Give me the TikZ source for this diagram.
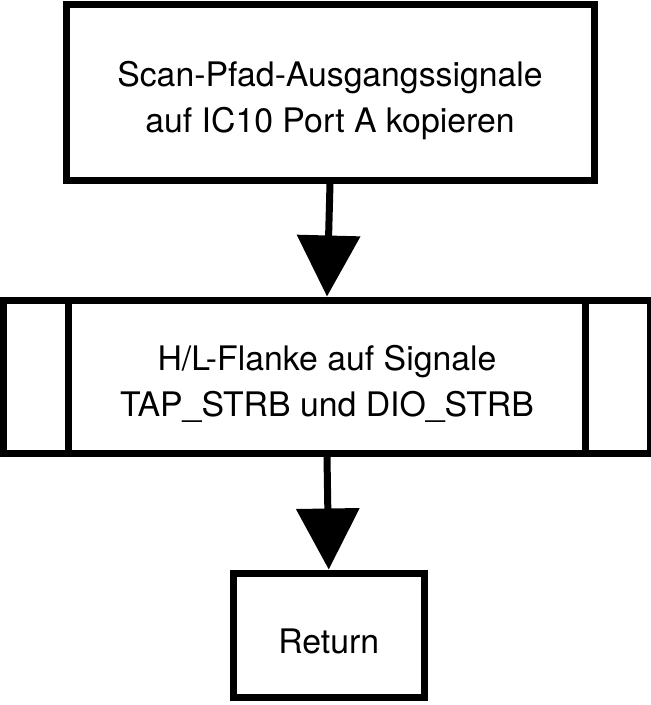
\documentclass[tikz,border=0pt]{standalone}
\usepackage{fontspec}
\setmainfont{TeX Gyre Heros}
\usepackage{tikz}
\usetikzlibrary{arrows.meta}
\tikzset{
  box/.style={draw=black, line width=7pt, fill=white},
  lbl/.style={text=black, align=center, font=\fontsize{33.8}{46}\selectfont},
  flow/.style={draw=black, line width=7pt, -{Triangle[width=62pt, length=61pt]}}
}

\begin{document}
\begin{tikzpicture}[x=1pt, y=-1pt]
  \useasboundingbox (0,0) rectangle (651,705);

  \node[box, minimum width=528pt, minimum height=176pt,
    label={[lbl, yshift=-9pt]center:{Scan-Pfad-Ausgangssignale\\auf IC10 Port A kopieren}}] (copy) at (330,92) {};
  \node[box, minimum width=647pt, minimum height=153pt,
    label={[lbl, yshift=-7pt]center:{H/L-Flanke auf Signale\\TAP\_STRB und DIO\_STRB}}] (flank) at (327,376.5) {};
  \node[box, minimum width=191.5pt, minimum height=124pt,
    label={[lbl, yshift=-6.5pt]center:{Return}}] (ret) at (328.75,635) {};

  % side bars of the subroutine box
  \draw[line width=7pt] ([xshift=68.3pt]flank.north west) -- ([xshift=68.3pt]flank.south west);
  \draw[line width=7pt] ([xshift=-68.3pt]flank.north east) -- ([xshift=-68.3pt]flank.south east);

  \draw[flow] (copy.south) -- (flank.north);
  \draw[flow] (flank.south) -- (ret.north);
\end{tikzpicture}
\end{document}
